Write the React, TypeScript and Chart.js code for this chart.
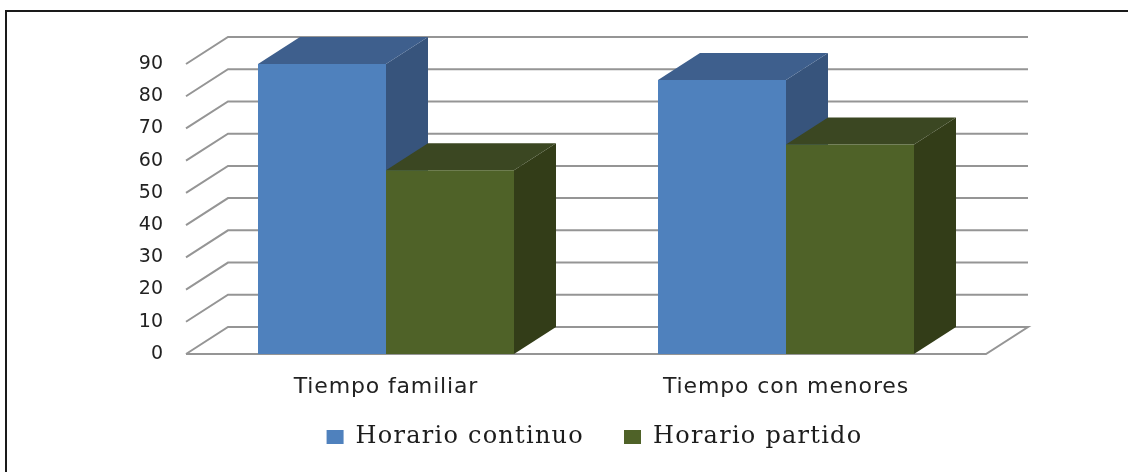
import React, { useEffect, useRef } from "react";
import { Chart, registerables } from "chart.js";

Chart.register(...registerables);

const categories = ["Tiempo familiar", "Tiempo con menores"];
const horarioContinuo = [90, 85];
const horarioPartido = [57, 65];
const yTicks = { min: 0, max: 90, step: 10 };

const DEPTH_X = 42;
const DEPTH_Y = 27;
const GRID_COLOR = "#959595";
const faces = [
  { front: "#4F81BD", side: "#37547C", top: "#3E5F8D" },
  { front: "#4F6228", side: "#333D18", top: "#3B4722" },
];

const poly = (ctx: CanvasRenderingContext2D, pts: number[][], color: string) => {
  ctx.fillStyle = color;
  ctx.beginPath();
  pts.forEach(([x, y], i) => (i ? ctx.lineTo(x, y) : ctx.moveTo(x, y)));
  ctx.closePath();
  ctx.fill();
};

// Run a method with the canvas letter spacing set (the reference's text is stretched wide).
const spaced = (obj: any, name: string, ctx: any, spacing: string, after?: () => void) => {
  const orig = obj[name];
  obj[name] = function (...args: any[]) {
    ctx.save();
    ctx.letterSpacing = spacing;
    const r = orig.apply(this, args);
    ctx.restore();
    after?.();
    return r;
  };
};

const threeD = {
  id: "threeD",
  start(chart: any) {
    const lg = chart.legend;
    spaced(lg, "fit", chart.ctx, "1.25px", () => {
      lg.height = 0; // the legend is placed by hand below; it takes no room from the plot
    });
    spaced(lg, "draw", chart.ctx, "1.25px");
  },
  afterLayout(chart: any) {
    const lg = chart.legend;
    const pad = lg.options.labels.padding;
    const size = lg.options.labels.font.size;
    lg.left = 192;
    lg.right = 997;
    lg.top = 437 - size / 2 - pad;
    const x = chart.scales.x;
    if (!x.$spaced) {
      x.$spaced = true;
      spaced(x, "drawLabels", chart.ctx, "0.85px");
    }
  },
  beforeDatasetsDraw(chart: any) {
    const { ctx, chartArea: a, scales } = chart;
    const y = scales.y;
    ctx.save();
    ctx.strokeStyle = GRID_COLOR;
    ctx.lineWidth = 2;
    y.ticks.forEach((t: any) => {
      const py = y.getPixelForValue(t.value);
      ctx.beginPath();
      ctx.moveTo(a.left, py);
      ctx.lineTo(a.left + DEPTH_X, py - DEPTH_Y);
      ctx.lineTo(a.right + DEPTH_X, py - DEPTH_Y);
      if (t.value === 0) {
        ctx.lineTo(a.right, py);
        ctx.lineTo(a.left, py);
      }
      ctx.stroke();
    });
    chart.data.datasets.forEach((_: any, di: number) => {
      const f = faces[di];
      chart.getDatasetMeta(di).data.forEach((b: any) => {
        const l = b.x - b.width / 2;
        const r = b.x + b.width / 2;
        poly(ctx, [[r, b.y], [r + DEPTH_X, b.y - DEPTH_Y], [r + DEPTH_X, b.base - DEPTH_Y], [r, b.base]], f.side);
        poly(ctx, [[l, b.y], [l + DEPTH_X, b.y - DEPTH_Y], [r + DEPTH_X, b.y - DEPTH_Y], [r, b.y]], f.top);
      });
    });
    ctx.restore();
  },
};

export default function App() {
  const ref = useRef<HTMLCanvasElement>(null);
  useEffect(() => {
    const chart = new Chart(ref.current!, {
      type: "bar",
      plugins: [threeD],
      data: {
        labels: categories,
        datasets: [
          { label: "Horario continuo", data: horarioContinuo, backgroundColor: faces[0].front },
          { label: "Horario partido", data: horarioPartido, backgroundColor: faces[1].front },
        ],
      },
      options: {
        animation: false,
        responsive: false,
        layout: { padding: { left: 0, right: 142, top: 64, bottom: 0 } },
        datasets: { bar: { categoryPercentage: 0.64, barPercentage: 1 } },
        plugins: {
          tooltip: { enabled: false },
          legend: {
            position: "bottom",
            fullSize: false,
            labels: {
              boxWidth: 17,
              boxHeight: 14,
              padding: 40,
              color: "#1c1c1c",
              font: { family: "'DejaVu Serif'", size: 24 },
            },
          },
        },
        scales: {
          x: {
            grid: { display: false, drawTicks: false },
            border: { display: false },
            ticks: {
              color: "#222222",
              padding: 20,
              maxRotation: 0,
              font: { family: "'DejaVu Sans'", size: 22 },
            },
            afterFit: (s: any) => {
              s.height = 118;
            },
          },
          y: {
            min: yTicks.min,
            max: yTicks.max,
            grid: { display: false, drawTicks: false },
            border: { display: false },
            ticks: {
              stepSize: yTicks.step,
              autoSkip: false,
              color: "#222222",
              padding: 23,
              font: { family: "'DejaVu Sans'", size: 19 },
            },
            afterFit: (s: any) => {
              s.width = 186;
            },
          },
        },
      } as any,
    });
    return () => chart.destroy();
  }, []);
  return (
    <div style={{ position: "fixed", left: 0, top: 0, width: 1128, height: 472, background: "#fff" }}>
      <canvas ref={ref} width={1128} height={472} style={{ position: "absolute", left: 0, top: 0 }} />
      <div
        style={{
          position: "absolute",
          left: 5,
          top: 10,
          right: 0,
          bottom: 0,
          borderLeft: "2px solid #1a1a1a",
          borderTop: "2px solid #1a1a1a",
          pointerEvents: "none",
        }}
      />
    </div>
  );
}
